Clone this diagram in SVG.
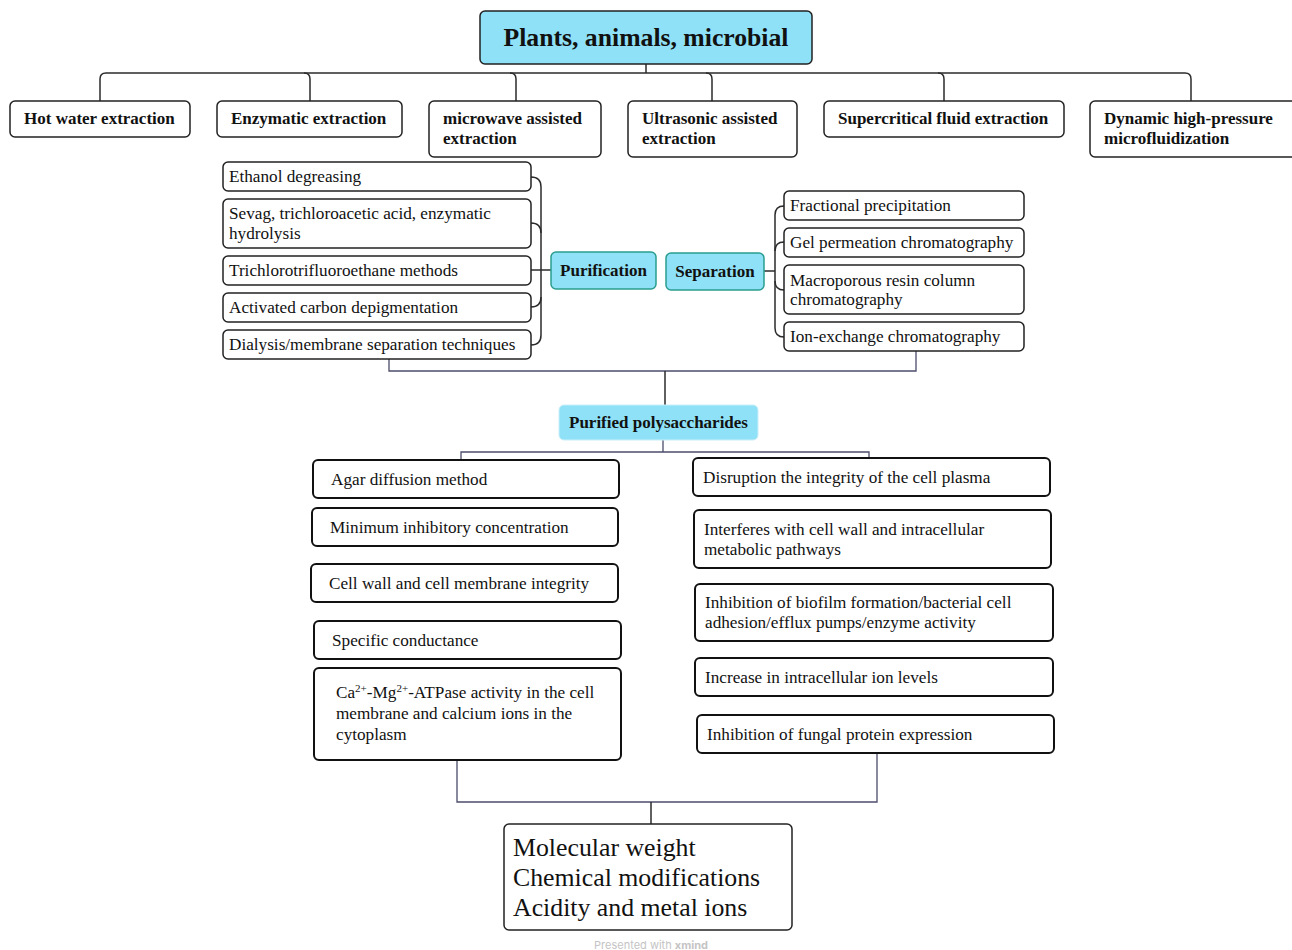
<svg xmlns="http://www.w3.org/2000/svg" width="1292" height="950" viewBox="0 0 1292 950">
<style>
.bg{fill:#ffffff}
.hub{fill:#8fe1f7;stroke:#222;stroke-width:1.5}
.hub2{fill:#8fe1f7;stroke:#2a9d8f;stroke-width:1.5}
.hub3{fill:#8fe1f7;stroke:#c8eef8;stroke-width:1}
.box{fill:#fff;stroke:#222;stroke-width:1.5}
.box2{fill:#fff;stroke:#111;stroke-width:2}
.t{font-family:"Liberation Serif","Times New Roman",serif;fill:#111}
.b16{font-size:17px;font-weight:bold}
.r16{font-size:17.2px}
.title{font-size:25.7px;font-weight:bold}
.big{font-size:25.8px}
.c{fill:none;stroke:#2b2b2b;stroke-width:1.5}
.c2{fill:none;stroke:#4c4c6c;stroke-width:1.3}
</style>
<rect class="bg" x="0" y="0" width="1292" height="950"/>

<g id="connectors">
  <path class="c" d="M646,64 V73"/>
  <path class="c" d="M100,101 V79 Q100,73 106,73 H1185 Q1191,73 1191,79 V101"/>
  <path class="c" d="M304,73 Q310,73 310,79 V101"/>
  <path class="c" d="M510,73 Q516,73 516,79 V101"/>
  <path class="c" d="M706,73 Q712,73 712,79 V101"/>
  <path class="c" d="M938,73 Q944,73 944,79 V101"/>
  <path class="c" d="M531,177 Q541,177 541,187 V335 Q541,345 531,345"/>
  <path class="c" d="M531,223 Q541,223 541,233"/>
  <path class="c" d="M531,270 H551"/>
  <path class="c" d="M531,307 Q541,307 541,297"/>
  <path class="c" d="M784,206 Q775,206 775,215 V328 Q775,337 784,337"/>
  <path class="c" d="M784,242 Q775,242 775,251"/>
  <path class="c" d="M764,271 H775"/>
  <path class="c" d="M784,290 Q775,290 775,281"/>
  <path class="c2" d="M389,359 V371 H916 V351"/>
  <path class="c" d="M665,371 V405"/>
  <path class="c2" d="M663,440 V452"/>
  <path class="c2" d="M461,460 V452 H869 V458"/>
  <path class="c2" d="M457,760 V802 H877 V753"/>
  <path class="c" d="M651,802 V824"/>
</g>

<g id="n-root">
  <rect class="hub" x="480" y="11" width="332" height="53" rx="5"/>
  <text class="t title" x="646" y="46" text-anchor="middle">Plants, animals, microbial</text>
</g>

<g id="n-hotwater">
  <rect class="box" x="10" y="101" width="180" height="36" rx="5"/>
  <text class="t b16" x="24" y="124">Hot water extraction</text>
</g>
<g id="n-enzymatic">
  <rect class="box" x="217" y="101" width="185" height="36" rx="5"/>
  <text class="t b16" x="231" y="124">Enzymatic extraction</text>
</g>
<g id="n-microwave">
  <rect class="box" x="429" y="101" width="172" height="56" rx="5"/>
  <text class="t b16" x="443" y="124">microwave assisted</text>
  <text class="t b16" x="443" y="144">extraction</text>
</g>
<g id="n-ultrasonic">
  <rect class="box" x="628" y="101" width="169" height="56" rx="5"/>
  <text class="t b16" x="642" y="124">Ultrasonic assisted</text>
  <text class="t b16" x="642" y="144">extraction</text>
</g>
<g id="n-supercritical">
  <rect class="box" x="824" y="101" width="240" height="36" rx="5"/>
  <text class="t b16" x="838" y="124">Supercritical fluid extraction</text>
</g>
<g id="n-dynamic">
  <rect class="box" x="1090" y="101" width="206" height="56" rx="5"/>
  <text class="t b16" x="1104" y="124">Dynamic high-pressure</text>
  <text class="t b16" x="1104" y="144">microfluidization</text>
</g>

<g id="n-ethanol">
  <rect class="box" x="223" y="162" width="308" height="29" rx="5"/>
  <text class="t r16" x="229" y="182">Ethanol degreasing</text>
</g>
<g id="n-sevag">
  <rect class="box" x="223" y="199" width="308" height="49" rx="5"/>
  <text class="t r16" x="229" y="219">Sevag, trichloroacetic acid, enzymatic</text>
  <text class="t r16" x="229" y="239">hydrolysis</text>
</g>
<g id="n-trichloro">
  <rect class="box" x="223" y="256" width="308" height="29" rx="5"/>
  <text class="t r16" x="229" y="276">Trichlorotrifluoroethane methods</text>
</g>
<g id="n-activated">
  <rect class="box" x="223" y="293" width="308" height="29" rx="5"/>
  <text class="t r16" x="229" y="313">Activated carbon depigmentation</text>
</g>
<g id="n-dialysis">
  <rect class="box" x="223" y="330" width="308" height="29" rx="5"/>
  <text class="t r16" x="229" y="350">Dialysis/membrane separation techniques</text>
</g>

<g id="n-purification">
  <rect class="hub2" x="551" y="252" width="105" height="37" rx="5"/>
  <text class="t b16" x="603.5" y="276" text-anchor="middle">Purification</text>
</g>
<g id="n-separation">
  <rect class="hub2" x="666" y="253" width="98" height="37" rx="5"/>
  <text class="t b16" x="715" y="277" text-anchor="middle">Separation</text>
</g>

<g id="n-fractional">
  <rect class="box" x="784" y="191" width="240" height="29" rx="5"/>
  <text class="t r16" x="790" y="211">Fractional precipitation</text>
</g>
<g id="n-gel">
  <rect class="box" x="784" y="228" width="240" height="29" rx="5"/>
  <text class="t r16" x="790" y="248">Gel permeation chromatography</text>
</g>
<g id="n-macroporous">
  <rect class="box" x="784" y="265" width="240" height="49" rx="5"/>
  <text class="t r16" x="790" y="286">Macroporous resin column</text>
  <text class="t r16" x="790" y="305">chromatography</text>
</g>
<g id="n-ionexchange">
  <rect class="box" x="784" y="322" width="240" height="29" rx="5"/>
  <text class="t r16" x="790" y="342">Ion-exchange chromatography</text>
</g>

<g id="n-purified">
  <rect class="hub3" x="559" y="405" width="199" height="35" rx="5"/>
  <text class="t b16" x="658.5" y="428" text-anchor="middle">Purified polysaccharides</text>
</g>

<g id="n-agar">
  <rect class="box2" x="313" y="460" width="306" height="38" rx="5"/>
  <text class="t r16" x="331" y="485">Agar diffusion method</text>
</g>
<g id="n-mic">
  <rect class="box2" x="312" y="508" width="306" height="38" rx="5"/>
  <text class="t r16" x="330" y="533">Minimum inhibitory concentration</text>
</g>
<g id="n-cellwall">
  <rect class="box2" x="311" y="564" width="307" height="38" rx="5"/>
  <text class="t r16" x="329" y="589">Cell wall and cell membrane integrity</text>
</g>
<g id="n-conductance">
  <rect class="box2" x="314" y="621" width="307" height="38" rx="5"/>
  <text class="t r16" x="332" y="646">Specific conductance</text>
</g>
<g id="n-atpase">
  <rect class="box2" x="314" y="668" width="307" height="92" rx="5"/>
  <text class="t r16" x="336" y="698">Ca<tspan font-size="11" dy="-6">2+</tspan><tspan dy="6">-Mg</tspan><tspan font-size="11" dy="-6">2+</tspan><tspan dy="6">-ATPase activity in the cell</tspan></text>
  <text class="t r16" x="336" y="719">membrane and calcium ions in the</text>
  <text class="t r16" x="336" y="740">cytoplasm</text>
</g>

<g id="n-disruption">
  <rect class="box2" x="693" y="458" width="357" height="38" rx="5"/>
  <text class="t r16" x="703" y="483">Disruption the integrity of the cell plasma</text>
</g>
<g id="n-interferes">
  <rect class="box2" x="694" y="510" width="357" height="58" rx="5"/>
  <text class="t r16" x="704" y="535">Interferes with cell wall and intracellular</text>
  <text class="t r16" x="704" y="555">metabolic pathways</text>
</g>
<g id="n-biofilm">
  <rect class="box2" x="695" y="584" width="358" height="57" rx="5"/>
  <text class="t r16" x="705" y="608">Inhibition of biofilm formation/bacterial cell</text>
  <text class="t r16" x="705" y="628">adhesion/efflux pumps/enzyme activity</text>
</g>
<g id="n-ion">
  <rect class="box2" x="695" y="658" width="358" height="38" rx="5"/>
  <text class="t r16" x="705" y="683">Increase in intracellular ion levels</text>
</g>
<g id="n-fungal">
  <rect class="box2" x="697" y="715" width="357" height="38" rx="5"/>
  <text class="t r16" x="707" y="740">Inhibition of fungal protein expression</text>
</g>

<g id="n-factors">
  <rect class="box" x="504" y="824" width="288" height="106" rx="5"/>
  <text class="t big" x="513" y="856">Molecular weight</text>
  <text class="t big" x="513" y="886">Chemical modifications</text>
  <text class="t big" x="513" y="916">Acidity and metal ions</text>
</g>

<text x="651" y="949" text-anchor="middle" font-family="Inter,'Open Sans',sans-serif" font-size="11" fill="#c4c4c4">Presented with <tspan font-weight="bold">xmind</tspan></text>
</svg>
